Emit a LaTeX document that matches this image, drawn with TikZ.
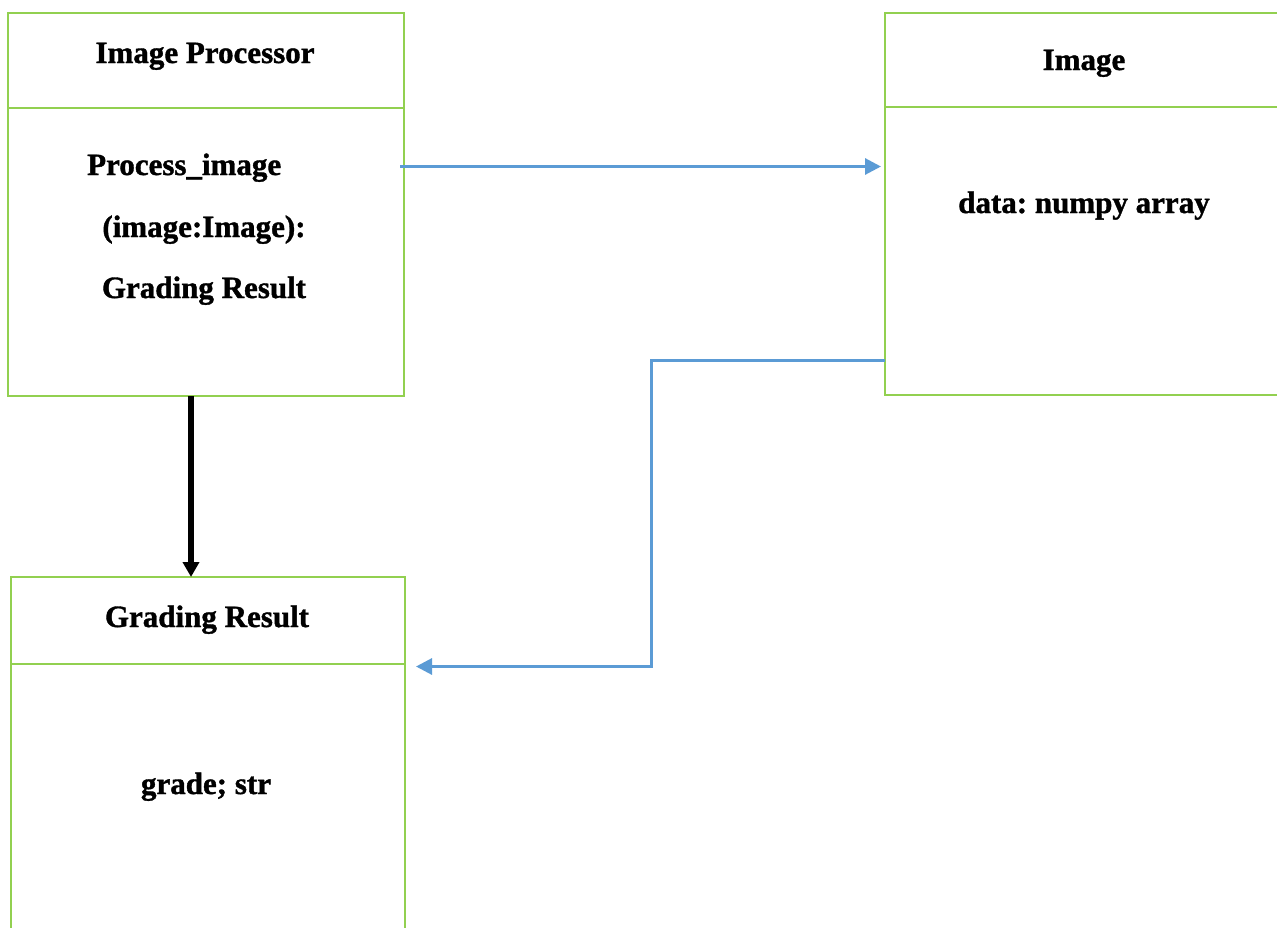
\documentclass[tikz,border=0pt]{standalone}
\usepackage{fontspec}
\setmainfont{Liberation Serif}[BoldFeatures={FakeBold=1.2}]
\usetikzlibrary{arrows.meta}
\definecolor{boxgreen}{HTML}{92D050}
\definecolor{linkblue}{HTML}{5B9BD5}
\frenchspacing
\tikzset{
  classbox/.style={draw=boxgreen, line width=1.2pt, rectangle, outer sep=0pt, inner sep=0pt, anchor=north west},
  divider/.style={draw=boxgreen, line width=1.2pt},
  label/.style={font=\fontsize{31}{37}\selectfont\bfseries\frenchspacing, inner sep=0pt, anchor=base},
  bluelink/.style={draw=linkblue, line width=3pt, -{Triangle[length=16pt,width=16pt]}},
  blacklink/.style={draw=black, line width=6pt, -{Triangle[length=15pt,width=16pt]}}
}
\begin{document}
\begin{tikzpicture}[x=1pt,y=-1pt]
\useasboundingbox (0,0) rectangle (1277,927);
\clip (0,0) rectangle (1277,927);
\fill[white] (0,0) rectangle (1277,927);

% class boxes
\node[classbox, line width=2pt, minimum width=396pt, minimum height=383pt] (ip) at (8,13) {};
\node[classbox, minimum width=398pt, minimum height=382pt] (img) at (885,13) {};
\node[classbox, minimum width=394pt, minimum height=400pt] (gr) at (11,577) {};

% compartment dividers
\draw[divider, line width=2pt] (ip.west |- 0,108) -- (ip.east |- 0,108);
\draw[divider] (img.west |- 0,107) -- (img.east |- 0,107);
\draw[divider] (gr.west |- 0,664) -- (gr.east |- 0,664);

% texts
\node[label] (ipname) at (205,63) {Image Processor};
\node[label, anchor=base west] (ipop1) at (87,175) {Process\_image};
\node[label] (ipop2) at (204,237) {(image:Image):};
\node[label] (ipop3) at (204,298) {Grading Result};
\node[label] (imgname) at (1084,70) {Image};
\node[label] (imgattr) at (1084,213) {data: numpy array};
\node[label] (grname) at (207,627) {Grading Result};
\node[label] (grattr) at (206,794) {grade; str};

% connectors
\coordinate (a1) at (400,166.5);
\draw[bluelink, shorten >=4pt] (a1) -- (a1 -| img.west);
\coordinate (bend) at (651,360);
\draw[bluelink, shorten >=11pt] (img.west |- bend) -- (bend) |- (gr.east |- 0,666.5);
\draw[blacklink] (ip.south -| 191,0) -- (gr.north -| 191,0);
\end{tikzpicture}
\end{document}
